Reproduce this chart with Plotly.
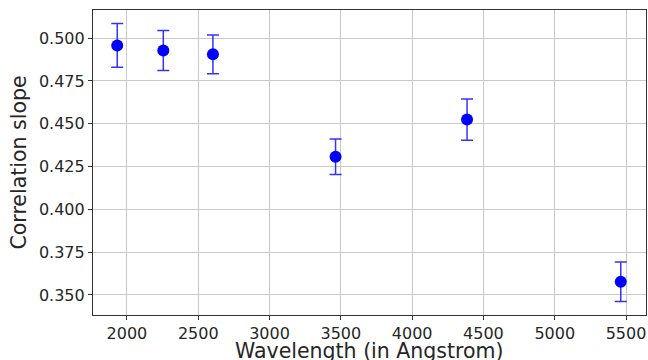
import plotly.graph_objects as go

wavelength = [1932, 2255, 2603, 3463, 4385, 5463]
slope = [0.4957, 0.4928, 0.4905, 0.4307, 0.4524, 0.3577]
slope_err = [0.0128, 0.0117, 0.0113, 0.0104, 0.0120, 0.0115]

x_ticks = [2000, 2500, 3000, 3500, 4000, 4500, 5000, 5500]
y_ticks = [0.350, 0.375, 0.400, 0.425, 0.450, 0.475, 0.500]

fig = go.Figure()
fig.add_trace(go.Scatter(
    x=wavelength, y=slope, mode="markers",
    marker=dict(color="#0000ff", size=12),
    error_y=dict(type="data", array=slope_err, visible=True,
                 color="rgba(0,0,255,0.8)", thickness=1.5, width=6),
    showlegend=False,
))

fig.update_layout(
    width=648, height=360,
    margin=dict(l=93, r=2, t=10, b=45),
    paper_bgcolor="white", plot_bgcolor="white",
    font=dict(family="DejaVu Sans", color="#262626"),
)
fig.add_annotation(
    text="Wavelength (in Angstrom)", xref="paper", yref="paper",
    x=0.5, y=0, xanchor="center", yanchor="top", yshift=-22,
    showarrow=False, font=dict(size=20.5),
)
fig.update_xaxes(
    range=[1762, 5640], tickvals=x_ticks, ticktext=[str(v) for v in x_ticks],
    showgrid=True, gridcolor="#c8c8c8", gridwidth=1,
    showline=True, linecolor="#333333", linewidth=1.2, mirror=True,
    ticks="outside", ticklen=4, tickcolor="#333333",
    tickfont=dict(size=16), automargin=False,
    zeroline=False,
)
fig.update_yaxes(
    range=[0.3383, 0.5164], tickvals=y_ticks, ticktext=[f"{v:.3f}" for v in y_ticks],
    showgrid=True, gridcolor="#c8c8c8", gridwidth=1,
    showline=True, linecolor="#333333", linewidth=1.2, mirror=True,
    ticks="outside", ticklen=4, tickcolor="#333333",
    tickfont=dict(size=16), automargin=False,
    title=dict(text="Correlation slope", font=dict(size=20.5), standoff=6),
    zeroline=False,
)

fig.write_html("out.html")
